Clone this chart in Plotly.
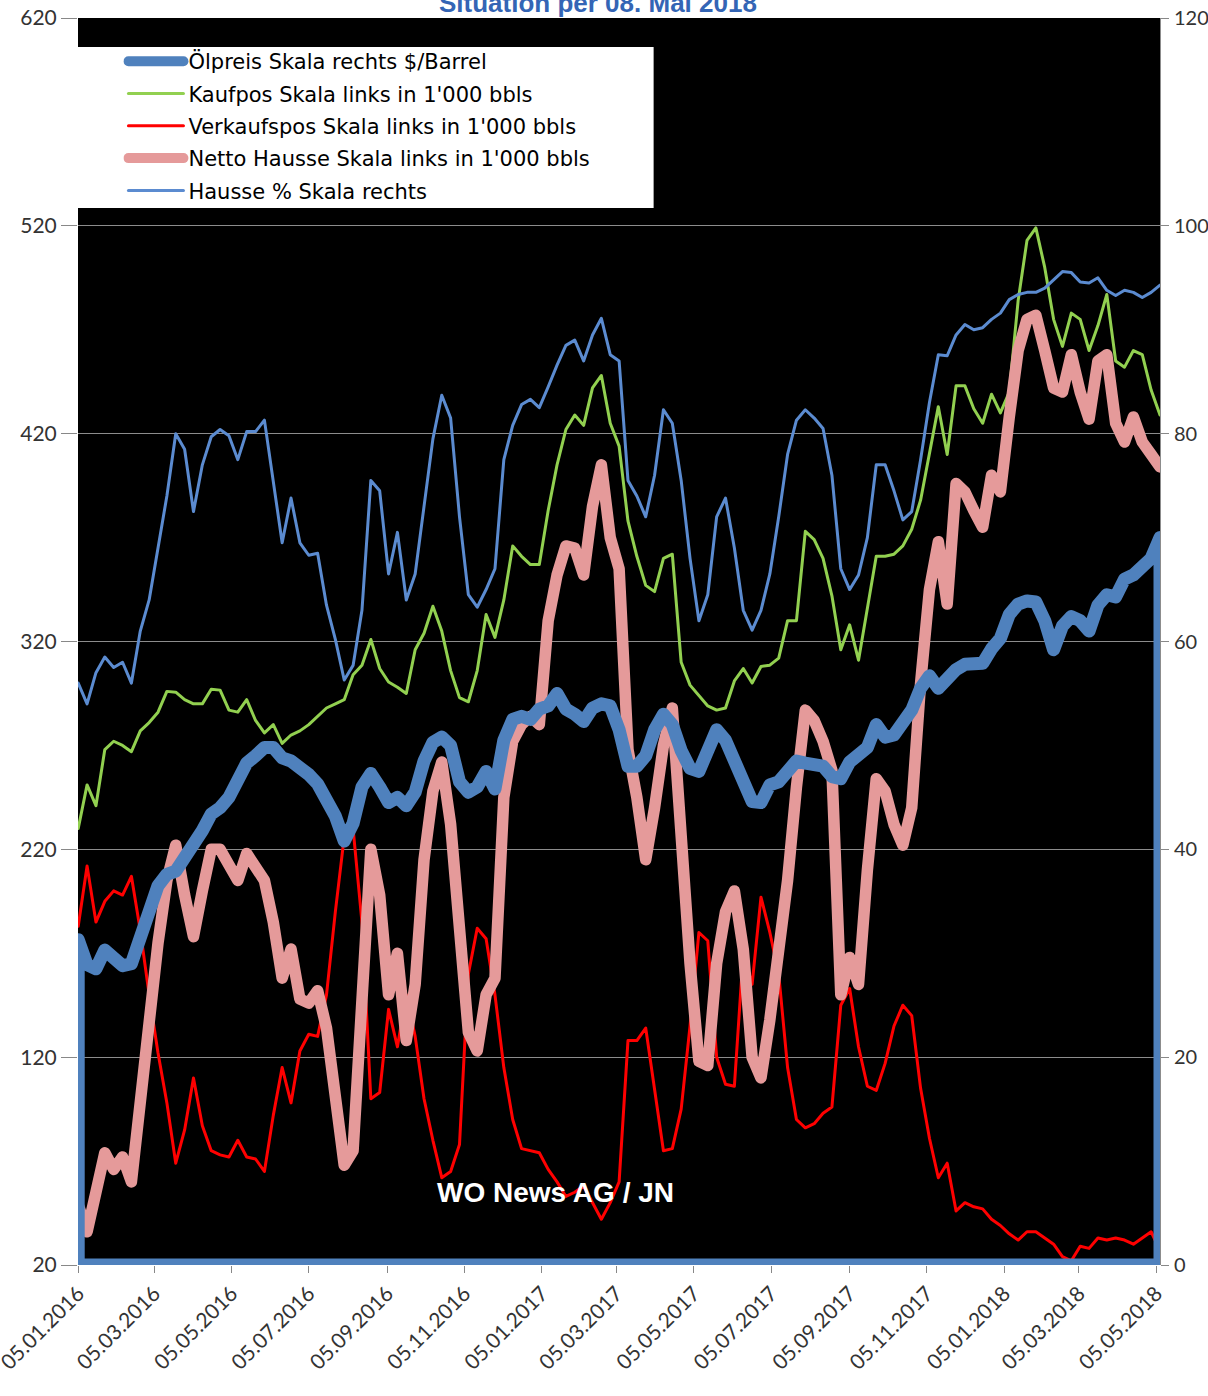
import pandas as pd
import plotly.graph_objects as go

# ---------------- data ----------------
dates = pd.date_range("2016-01-05", periods=123, freq="7D")

oil_price = [31.3,28.9,28.5,30.3,29.6,28.8,29,31.5,34.3,36.5,
             37.6,37.9,39.2,40.3,41.8,43.4,44,45,47,48.3,
             49,49.8,49.8,48.8,48.5,48,47.2,46.3,45,43.2,
             40.8,42.5,46,47.3,46,44.5,45,44.2,45.5,48.5,
             50.3,50.8,50,46.5,45.5,46,47.5,45.8,50.5,52.5,
             52.8,52.5,53.5,53.8,55,53.5,53,52.3,53.6,54,
             53.8,51.5,48,48,49,51.5,53,52,49.5,47.8,
             47.5,49.5,51.5,50.5,48.3,46.2,44.6,44.5,46.2,46.5,
             47.3,48.5,48.3,48.2,48,47,46.8,48.4,49.2,49.8,
             52,50.8,51,52.3,53.4,55.5,56.7,55.5,56.5,57.3,
             57.8,57.7,57.9,59.3,60.3,62.6,63.6,63.9,63.8,62,
             59.2,61.5,62.4,62,61,63.5,64.5,64.3,66,66.4,
             67.3,68,70]

kaufpos = [230,251,241,268,272,270,267,277,281,286,
           296,295.6,292,290,290,297,296.6,287,286,292,
           282,276,280,271,275,277,280,284,288,290,
           292,304,308.6,321,307,300.5,298,295,316,324,
           337,325,306,293,291,306,333,322,340,366,
           361,357,357,383,405,422,429,424,442,448,
           425,414,378,361,347,344,360,362,310,299,
           294,289,287,288,301,307,300,308,308.6,312,
           330,330,373,369,360,342,316,328,311,335,
           361,361,362,366,374,388,410,433,410,443,
           443,432,425,439,430,440,484,513,519,500,
           475,462,478,475,460,472,487,455,452,460,
           458,441,429]

verkaufspos = [183,212,185,195,200,198,207,181,150,122,
               98,69,85,110,87,75,73,72,80,72,
               71,65,92,115,98,123,131,130,150,190,
               226,230,185,100,103,143,125,150,130,100,
               80,62,65,78,160,182,177,150,115,90,
               76,75,74,66,60,53,55,58,50,42,
               50,60,128,128,134,105,75,76,95,135,
               180,176,120,107,106,170,155,197,180,160,
               115,90,86,88,93,96,145,153,125,106,
               104,117,135,145,140,105,81,62,69,46,
               50,48,47,42,39,35,32,36,36,33,
               30,24,22,29,28,33,32,33,32,30,
               33,36,27]

netto_hausse = [49,36,55,74,66,72,60,101,145,175,
                205,222,198,178,200,220,220,212,205,218,
                212,205,185,158,172,148,146,152,134,100,
                68,75,150,220,198,150,170,128,155,215,
                248,262,232,180,132,123,150,158,245,272,
                280,284,280,330,352,366,365,352,385,405,
                370,355,268,245,215,240,270,288,218,165,
                118,116,165,190,200,172,120,110,138,170,
                205,250,287,282,272,258,150,168,155,210,
                254,248,232,222,240,300,345,368,338,396,
                392,383,375,400,392,428,460,475,477,460,
                442,440,458,440,427,455,458,425,416,428,
                416,410,404]

hausse_pct = [56,54,57,58.5,57.5,58,56,61,64,69,
              74,80,78.5,72.5,77,79.7,80.4,79.8,77.5,80.2,
              80.2,81.3,75.5,69.5,73.8,69.5,68.3,68.5,63.5,60.2,
              56.3,57.7,63,75.5,74.5,66.5,70.5,64,66.5,73,
              79.5,83.7,81.5,72,64.5,63.3,65,67,77.5,80.8,
              82.8,83.3,82.5,84.5,86.6,88.5,89,87,89.5,91.1,
              87.6,87,75.5,74,72,76,82.3,81,75.5,68,
              62,64.5,72,73.8,69,63,61.1,63,66.5,72,
              78,81.3,82.3,81.5,80.5,76,67,65,66.4,70,
              77,77,74.5,71.7,72.5,77.5,83,87.6,87.5,89.5,
              90.5,90,90.2,91,91.6,92.9,93.4,93.6,93.6,94,
              94.8,95.6,95.5,94.6,94.5,95,93.8,93.3,93.8,93.6,
              93.1,93.6,94.3]

tick_dates = ["2016-01-05","2016-03-05","2016-05-05","2016-07-05","2016-09-05",
              "2016-11-05","2017-01-05","2017-03-05","2017-05-05","2017-07-05",
              "2017-09-05","2017-11-05","2018-01-05","2018-03-05","2018-05-05"]
tick_labels = [pd.Timestamp(d).strftime("%d.%m.%Y") for d in tick_dates]

left_ticks = [20, 120, 220, 320, 420, 520, 620]
right_ticks = [0, 20, 40, 60, 80, 100, 120]

names = ["Ölpreis Skala rechts $/Barrel",
         "Kaufpos Skala links in 1'000 bbls",
         "Verkaufspos Skala links in 1'000 bbls",
         "Netto Hausse Skala links in 1'000 bbls",
         "Hausse % Skala rechts"]

# ---------------- figure ----------------
FONT = "Lato, 'Open Sans', sans-serif"
LEGFONT = "'DejaVu Sans', sans-serif"
fig = go.Figure()

# oil price drawn as a closed outline down to zero (as in the source chart)
oil_x = [dates[0]] + list(dates) + [dates[-1], dates[0]]
oil_y = [0] + oil_price + [0, 0]
fig.add_trace(go.Scatter(x=oil_x, y=oil_y, yaxis="y2", name=names[0], mode="lines",
                         line=dict(color="#4F81BD", width=13), cliponaxis=False,
                         legendgroup="a"))
fig.add_trace(go.Scatter(x=dates, y=kaufpos, name=names[1], mode="lines",
                         line=dict(color="#92D050", width=3), legendgroup="b"))
fig.add_trace(go.Scatter(x=dates, y=verkaufspos, name=names[2], mode="lines",
                         line=dict(color="#FF0000", width=3), legendgroup="c"))
fig.add_trace(go.Scatter(x=dates, y=netto_hausse, name=names[3], mode="lines",
                         line=dict(color="#E59A9A", width=11.5), legendgroup="d"))
fig.add_trace(go.Scatter(x=dates, y=hausse_pct, yaxis="y2", name=names[4], mode="lines",
                         line=dict(color="#5B8BD0", width=3), legendgroup="e"))

fig.update_layout(
    width=1208, height=1396,
    margin=dict(l=78, r=48, t=18, b=131, autoexpand=False),
    paper_bgcolor="white", plot_bgcolor="black",
    font=dict(family=FONT, size=21, color="#333333"),
    showlegend=True,
    legend=dict(x=0.042, y=0.9815, xanchor="left", yanchor="top",
                bgcolor="rgba(0,0,0,0)", borderwidth=0,
                font=dict(family=LEGFONT, size=21, color="black"),
                itemwidth=55, traceorder="grouped", tracegroupgap=2),
    xaxis=dict(type="date", range=["2016-01-04 20:00", "2018-05-08"], automargin=False,
               tickvals=tick_dates, ticktext=tick_labels, tickangle=-45,
               ticklabeloverflow="allow",
               ticks="outside", ticklen=7, tickcolor="#888888",
               showgrid=False, zeroline=False, showline=False,
               tickfont=dict(family=FONT, size=21, color="#333333")),
    yaxis=dict(range=[20, 620], tickvals=left_ticks, automargin=False,
               ticks="outside", ticklen=16, tickcolor="#888888",
               showgrid=True, gridcolor="#8C8C8C", gridwidth=1,
               zeroline=False, showline=False,
               tickfont=dict(family=FONT, size=21, color="#333333")),
    yaxis2=dict(range=[0, 120], tickvals=right_ticks, overlaying="y", side="right",
                automargin=False,
                ticks="outside", ticklen=8, tickcolor="#888888",
                showgrid=False, zeroline=False, showline=True, linecolor="#8C8C8C",
                ticklabelstandoff=1,
                tickfont=dict(family=FONT, size=20, color="#333333")),
    shapes=[dict(type="rect", xref="paper", yref="paper", x0=0, x1=0.532,
                 y0=0.8476, y1=0.9768, fillcolor="white", line=dict(width=0),
                 layer="above")],
    annotations=[
        dict(text="<b>Situation per 08. Mai 2018</b>", xref="paper", yref="paper",
             x=0.481, y=0.9985, xanchor="center", yanchor="bottom", showarrow=False,
             font=dict(family="Liberation Sans, Arial, sans-serif", size=26, color="#3465B5")),
        dict(text="<b>WO News AG / JN</b>", xref="paper", yref="paper",
             x=0.441, y=0.0585, xanchor="center", yanchor="middle", showarrow=False,
             font=dict(family="Liberation Sans, Arial, sans-serif", size=28, color="white")),
    ],
)

post = """
document.querySelectorAll('.js-line').forEach(function(p){
  p.style.strokeLinejoin='round'; p.style.strokeLinecap='round';
});
document.body.style.margin='0';
"""
fig.write_html("out.html", post_script=post, config={"displayModeBar": False})
